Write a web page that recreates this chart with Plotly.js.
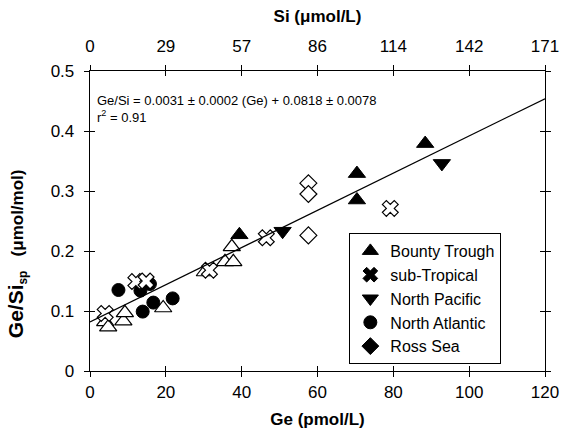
<!DOCTYPE html>
<html>
<head>
<meta charset="utf-8">
<script src="https://cdn.plot.ly/plotly-3.0.1.min.js"></script>
<style>html,body{margin:0;padding:0;background:#fff;}#chart{width:562px;height:441px;}</style>
</head>
<body>
<div id="chart"></div>
<script>
// ---- data (Ge in pmol/L, Ge/Si_sp in umol/mol) ----
var categories = ["Bounty Trough", "sub-Tropical", "North Pacific", "North Atlantic", "Ross Sea"];

var btFilledGe    = [39.4, 70.4, 70.4, 88.4];
var btFilledRatio = [0.227, 0.329, 0.285, 0.379];

var btOpenGe      = [4.0, 4.8, 8.8, 9.2, 19.3, 30.3, 35.6, 37.8, 37.4];
var btOpenRatio   = [0.082, 0.073, 0.083, 0.097, 0.105, 0.165, 0.182, 0.182, 0.207];

var stGe          = [4.0, 12.1, 14.8, 31.5, 46.5, 79.2];
var stRatio       = [0.096, 0.149, 0.150, 0.168, 0.222, 0.271];

var npGe          = [50.8, 92.8];
var npRatio       = [0.233, 0.346];

var naGe          = [7.5, 13.3, 15.8, 13.9, 16.7, 21.8];
var naRatio       = [0.135, 0.134, 0.145, 0.099, 0.114, 0.121];

var rsGe          = [57.6, 57.6, 57.6];
var rsRatio       = [0.313, 0.295, 0.226];

// regression Ge/Si = slope*Ge + intercept
var fitSlope = 0.0031, fitIntercept = 0.0818;
var fitGe = [0, 120];

// axis ticks
var geTicks = [0, 20, 40, 60, 80, 100, 120];
var siTickText = ["0", "29", "57", "86", "114", "142", "171"];
var ratioTicks = [0, 0.1, 0.2, 0.3, 0.4, 0.5];

var FONT = "Liberation Sans, Arial, sans-serif";
var legendSymbols = ["triangle-up", "x", "triangle-down", "circle", "diamond"];
var legendSizes = [14, 13, 14, 13, 13];

var traces = [];
// data traces (no legend)
traces.push({x: naGe, y: naRatio, type: "scatter", mode: "markers", showlegend: false,
  marker: {symbol: "circle", size: 13, color: "black", line: {color: "black", width: 1}}});
traces.push({x: btOpenGe, y: btOpenRatio, type: "scatter", mode: "markers", showlegend: false,
  marker: {symbol: "triangle-up", size: 15, color: "white", line: {color: "black", width: 1.2}}});
traces.push({x: btFilledGe, y: btFilledRatio, type: "scatter", mode: "markers", showlegend: false,
  marker: {symbol: "triangle-up", size: 15, color: "black", line: {color: "black", width: 1}}});
traces.push({x: npGe, y: npRatio, type: "scatter", mode: "markers", showlegend: false,
  marker: {symbol: "triangle-down", size: 15, color: "black", line: {color: "black", width: 1}}});
traces.push({x: stGe, y: stRatio, type: "scatter", mode: "markers", showlegend: false,
  marker: {symbol: "x", size: 14, color: "white", line: {color: "black", width: 1.2}}});
traces.push({x: rsGe, y: rsRatio, type: "scatter", mode: "markers", showlegend: false,
  marker: {symbol: "diamond", size: 13, color: "white", line: {color: "black", width: 1.2}}});
// regression line
traces.push({x: fitGe, y: fitGe.map(function (g) { return fitSlope * g + fitIntercept; }),
  type: "scatter", mode: "lines", showlegend: false, line: {color: "black", width: 1.3}});
// legend entries
categories.forEach(function (c, i) {
  traces.push({x: [null], y: [null], type: "scatter", mode: "markers", name: c,
    marker: {symbol: legendSymbols[i], size: legendSizes[i], color: "black", line: {color: "black", width: 1}}});
});
// carrier traces for overlay axes
traces.push({x: [null], y: [null], xaxis: "x2", yaxis: "y", showlegend: false, hoverinfo: "skip", mode: "markers"});
traces.push({x: [null], y: [null], xaxis: "x3", yaxis: "y2", showlegend: false, hoverinfo: "skip", mode: "markers"});

var tickFont = {family: FONT, size: 17, color: "black"};
var titleFont = {family: FONT, size: 17, color: "black", weight: "bold"};

var layout = {
  width: 562, height: 441,
  margin: {l: 90, r: 17, t: 71, b: 70, pad: 0},
  paper_bgcolor: "white", plot_bgcolor: "white",
  font: {family: FONT, color: "black"},
  showlegend: true,
  legend: {x: 0.57, y: 0.46, xanchor: "left", yanchor: "top",
    bordercolor: "black", borderwidth: 1, bgcolor: "white",
    font: {family: FONT, size: 16, color: "black"}, itemwidth: 30, tracegroupgap: 0},
  xaxis: {range: [0, 120], tickvals: geTicks, ticks: "outside", ticklen: 5, tickwidth: 1, tickcolor: "black",
    showline: true, linecolor: "black", linewidth: 1.3, mirror: true, showgrid: false, zeroline: false,
    tickfont: tickFont, title: {text: "Ge (pmol/L)", font: titleFont, standoff: 12}},
  xaxis2: {range: [0, 120], overlaying: "x", side: "top", anchor: "y", tickvals: geTicks, ticktext: siTickText,
    ticks: "outside", ticklen: 5, tickwidth: 1, tickcolor: "black", showline: false, showgrid: false, zeroline: false,
    ticklabelstandoff: 6,
    tickfont: tickFont, title: {text: "Si (\u03bcmol/L)", font: titleFont, standoff: 10}},
  xaxis3: {range: [0, 120], overlaying: "x", anchor: "y", tickvals: geTicks, ticks: "inside", ticklen: 5, tickwidth: 1,
    tickcolor: "black", mirror: "allticks", showline: false, showgrid: false, zeroline: false, showticklabels: false},
  yaxis: {range: [0, 0.5], tickvals: ratioTicks, ticks: "outside", ticklen: 5, tickwidth: 1, tickcolor: "black",
    showline: true, linecolor: "black", linewidth: 1.3, mirror: "allticks", showgrid: false, zeroline: false,
    ticklabelstandoff: 6, tickfont: tickFont},
  yaxis2: {range: [0, 0.5], overlaying: "y", anchor: "x", tickvals: ratioTicks, ticks: "inside", ticklen: 5, tickwidth: 1,
    tickcolor: "black", mirror: "allticks", showline: false, showgrid: false, zeroline: false, showticklabels: false},
  annotations: [
    {xref: "paper", yref: "paper", x: 0.012, y: 0.935, xanchor: "left", yanchor: "top", align: "left", showarrow: false,
     text: "Ge/Si = 0.0031 \u00b1 0.0002 (Ge) + 0.0818 \u00b1 0.0078<br>r<sup>2</sup> = 0.91",
     font: {family: FONT, size: 13, color: "black"}},
    {xref: "paper", yref: "paper", x: -0.16, y: 0.39, xanchor: "center", yanchor: "middle", textangle: -90, showarrow: false,
     text: "<span style='font-size:21px'>Ge/Si</span><sub>sp</sub>   (\u03bcmol/mol)",
     font: {family: FONT, size: 17, color: "black", weight: "bold"}}
  ]
};

Plotly.newPlot("chart", traces, layout, {displayModeBar: false, staticPlot: true});
</script>
</body>
</html>
